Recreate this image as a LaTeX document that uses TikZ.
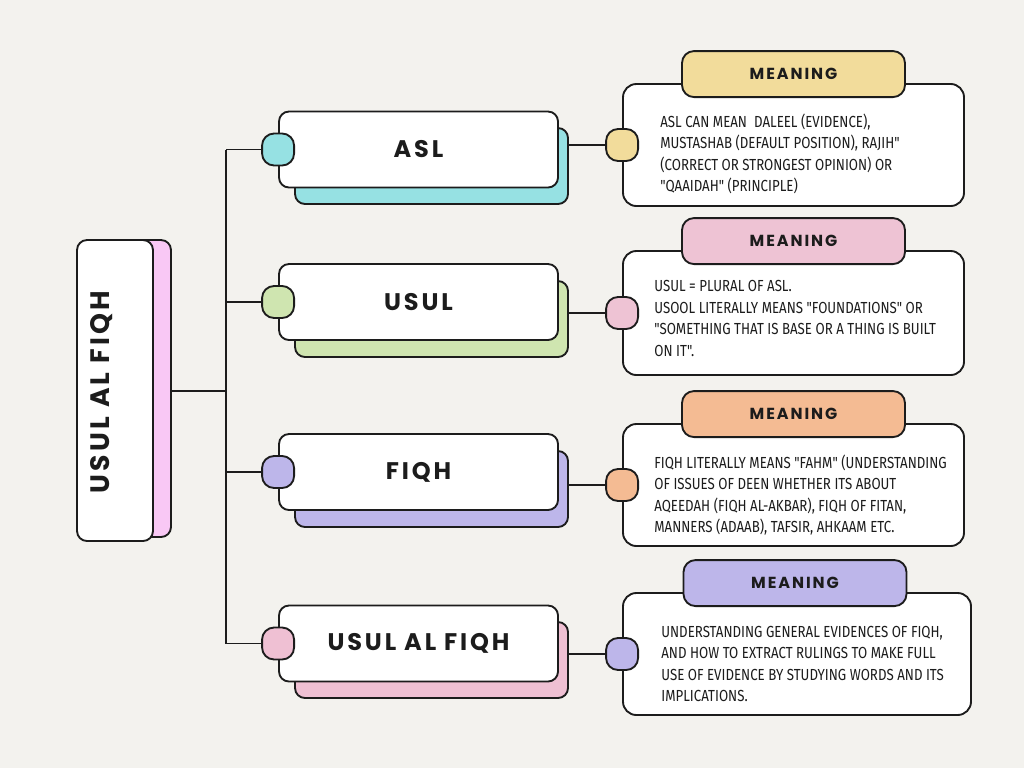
\documentclass[tikz,border=0pt]{standalone}
\usepackage{fontspec}
\usepackage{xcolor}
\usetikzlibrary{positioning}
\setmainfont{Fira Sans}
\newfontfamily\bodyfont{Fira Sans}[FakeStretch=0.83]
\newfontfamily\headfont{Poppins}[LetterSpace=12]
\definecolor{paper}{HTML}{F3F2EE}
\definecolor{ink}{HTML}{1C1C1C}
\definecolor{aslcyan}{HTML}{96E1E3}
\definecolor{usulgreen}{HTML}{CFE5B0}
\definecolor{fiqhlav}{HTML}{BDB6EA}
\definecolor{fullpink}{HTML}{EFC0D3}
\definecolor{mainpink}{HTML}{F9C8F5}
\definecolor{tabyellow}{HTML}{F2DC9B}
\definecolor{tabpink}{HTML}{EEC3D4}
\definecolor{taborange}{HTML}{F4BB93}
\definecolor{tablav}{HTML}{BDB6EA}
\tikzstyle{card} = [rectangle, rounded corners=7.5pt, minimum width=209.25pt, minimum height=57pt, draw=ink, line width=1.4pt, fill=white, text=ink, font=\headfont\bfseries\fontsize{18}{20}\selectfont]
\tikzstyle{shade} = [rectangle, rounded corners=7.5pt, minimum width=204.75pt, minimum height=57pt, draw=ink, line width=1.4pt]
\tikzstyle{dot} = [rectangle, rounded corners=9pt, minimum size=24pt, draw=ink, line width=1.4pt]
\tikzstyle{note} = [rectangle, rounded corners=10pt, minimum width=255.75pt, minimum height=91.5pt, draw=ink, line width=1.4pt, fill=white]
\tikzstyle{tab} = [rectangle, rounded corners=9pt, minimum width=167.25pt, minimum height=34.5pt, draw=ink, line width=1.4pt, text=ink, font=\headfont\bfseries\fontsize{12}{14}\selectfont]
\tikzstyle{notetext} = [inner sep=0pt, align=left, text=ink, font=\bodyfont\fontsize{12}{16.1}\selectfont]
\tikzstyle{line} = [draw=ink, line width=1.4pt]

\begin{document}
\begin{tikzpicture}[x=0.75pt, y=-0.75pt]
        \fill [paper] (0,0) rectangle (1024,768);
        \useasboundingbox (0,0) rectangle (1024,768);

        % main box
        \node (mainsh) [shade, fill=mainpink, minimum width=57pt, minimum height=222.75pt] at (133,388.5) {};
        \node (main) [shade, fill=white, minimum width=57pt, minimum height=225.75pt] at (115,390.5) {};
        \node (maintxt) [rotate=90, text=ink, font=\headfont\bfseries\fontsize{20}{22}\selectfont] at (102,392) {USUL AL FIQH};

        % branches
        \node (shA) [shade, fill=aslcyan] at (431.5,166) {};
        \node (asl) [card] at (418.5,149.5) {ASL};
        \node (dotA) [dot, fill=aslcyan] at (asl.west) {};

        \node (shB) [shade, fill=usulgreen] at (431.5,319) {};
        \node (usul) [card] at (418.5,302) {USUL};
        \node (dotB) [dot, fill=usulgreen] at (usul.west) {};

        \node (shC) [shade, fill=fiqhlav] at (431.5,489) {};
        \node (fiqh) [card] at (418.5,472) {FIQH};
        \node (dotC) [dot, fill=fiqhlav] at (fiqh.west) {};

        \node (shD) [shade, fill=fullpink] at (431.5,660) {};
        \node (full) [card] at (418.5,643.5) {USUL AL FIQH};
        \node (dotD) [dot, fill=fullpink] at (full.west) {};

        % meanings
        \node (noteA) [note] at (793.5,145) {};
        \node (tabA) [tab, fill=tabyellow] at ([yshift=6.75pt]noteA.north) {MEANING};
        \node (dotE) [dot, fill=tabyellow] at (noteA.west) {};
        \node (txtA) [notetext, right=28.5pt of noteA.west, yshift=-6.75pt] {ASL CAN MEAN \ DALEEL (EVIDENCE),\\MUSTASHAB (DEFAULT POSITION), RAJIH"\\(CORRECT OR STRONGEST OPINION) OR\\"QAAIDAH" (PRINCIPLE)};

        \node (noteB) [note, minimum height=93pt] at (793.5,313) {};
        \node (tabB) [tab, fill=tabpink] at ([yshift=6.75pt]noteB.north) {MEANING};
        \node (dotF) [dot, fill=tabpink] at (noteB.west) {};
        \node (txtB) [notetext, right=24pt of noteB.west, yshift=-4pt] {USUL = PLURAL OF ASL.\\USOOL LITERALLY MEANS "FOUNDATIONS" OR\\"SOMETHING THAT IS BASE OR A THING IS BUILT\\ON IT".};

        \node (noteC) [note] at (793.5,485) {};
        \node (tabC) [tab, fill=taborange] at ([yshift=6.75pt]noteC.north) {MEANING};
        \node (dotG) [dot, fill=taborange] at (noteC.west) {};
        \node (txtC) [notetext, right=24pt of noteC.west, yshift=-7.5pt] {FIQH LITERALLY MEANS "FAHM" (UNDERSTANDING\\OF ISSUES OF DEEN WHETHER ITS ABOUT\\AQEEDAH (FIQH AL-AKBAR), FIQH OF FITAN,\\MANNERS (ADAAB), TAFSIR, AHKAAM ETC.};

        \node (noteD) [note, minimum width=261pt] at (797,654) {};
        \node (tabD) [tab, fill=tablav] at ([xshift=-1.5pt, yshift=6.75pt]noteD.north) {MEANING};
        \node (dotH) [dot, fill=tablav] at (noteD.west) {};
        \node (txtD) [notetext, right=29.25pt of noteD.west, yshift=-7.5pt] {UNDERSTANDING GENERAL EVIDENCES OF FIQH,\\AND HOW TO EXTRACT RULINGS TO MAKE FULL\\USE OF EVIDENCE BY STUDYING WORDS AND ITS\\IMPLICATIONS.};

        % tree lines
        \coordinate (hub) at (226,391);
        \draw [line] (mainsh.east |- hub) -- (hub);
        \draw [line] (hub |- dotA) -- (hub |- dotD);
        \foreach \d in {dotA,dotB,dotC,dotD}
            \draw [line] (hub |- \d) -- (\d.west);
        \foreach \s/\d in {shA/dotE,shB/dotF,shC/dotG,shD/dotH}
            \draw [line] (\d.west -| \s.east) -- (\d.west);
    \end{tikzpicture}
\end{document}
